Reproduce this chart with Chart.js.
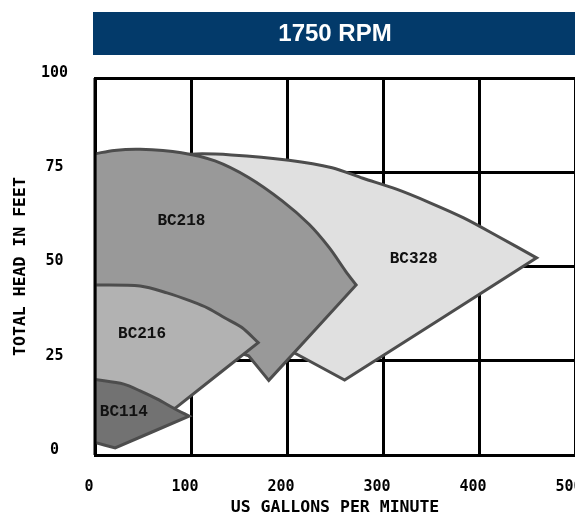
<!DOCTYPE html>
<html>
<head>
<meta charset="utf-8">
<style>
  html, body { margin: 0; padding: 0; background: #fff; }
  canvas { display: block; }
</style>
<script src="https://cdn.jsdelivr.net/npm/chart.js@4/dist/chart.umd.min.js"></script>
</head>
<body>
<canvas id="myChart" width="575" height="518"></canvas>
<script>
// pump ranges: flow (US gpm) and head (feet) around each outline.
// corner points are listed twice so the smoothed line keeps a sharp tip there
const pumpNames = ['BC114', 'BC216', 'BC218', 'BC328'];

const bc114Gpm  = [0, 30, 47, 65, 82, 98, 98, 21, 21, 0, 0, 0];
const bc114Head = [20, 18.8, 17, 14.8, 12.4, 10.3, 10.3, 1.9, 1.9, 3.3, 3.3, 20];

const bc216Gpm  = [0, 47, 75, 100, 118, 135, 153, 170, 170, 84, 84, 0, 0, 0];
const bc216Head = [45.1, 44.8, 43, 40.8, 38.9, 36.4, 33.8, 29.8, 29.8, 12.5, 12.5, 8, 8, 45.1];

const bc218Gpm  = [0, 20, 47, 90, 125, 160, 195, 223, 244, 261, 272, 272, 181, 181, 160, 160, 0, 0, 0];
const bc218Head = [79.9, 80.8, 81.1, 80.2, 78, 73.6, 67.4, 61.2, 55, 48.8, 45.1, 45.1, 19.8, 19.8, 26.3, 26.3, 40, 40, 79.9];

const bc328Gpm  = [0, 47, 100, 142, 202, 247, 279, 314, 349, 384, 419, 460, 460, 260, 260, 206, 206, 150, 150, 0, 0, 0];
const bc328Head = [70, 78, 79.8, 79.6, 78.2, 76.2, 73.4, 70.5, 66.9, 62.9, 58.1, 52.3, 52.3, 19.9, 19.9, 27.3, 27.3, 40, 40, 60, 60, 70];

// where the name sits inside each outline
const labelGpm  = [30, 49, 90, 332];
const labelHead = [11.5, 32, 62, 52];

const fillColors = ['#727272', '#b2b2b2', '#999999', '#e0e0e0'];

const xTicks = [0, 100, 200, 300, 400, 500];
const yTicks = [0, 25, 50, 75, 100];

function toPoints(gpm, head) {
    return gpm.map((g, i) => ({ x: g, y: head[i] }));
}

const outlines = [
    toPoints(bc114Gpm, bc114Head),
    toPoints(bc216Gpm, bc216Head),
    toPoints(bc218Gpm, bc218Head),
    toPoints(bc328Gpm, bc328Head),
];

// dark blue band behind the title
const titleBand = {
    id: 'titleBand',
    beforeDraw(chart) {
        const ctx = chart.ctx;
        const left = chart.chartArea.left - 2;
        ctx.save();
        ctx.fillStyle = '#033a6a';
        ctx.fillRect(left, 12, chart.width - left, 43);
        ctx.restore();
    }
};

// names of the pumps, and the left frame line redrawn over the shapes
const pumpLabels = {
    id: 'pumpLabels',
    afterDatasetsDraw(chart) {
        const ctx = chart.ctx;
        const { x, y } = chart.scales;
        const area = chart.chartArea;
        ctx.save();
        ctx.strokeStyle = '#000';
        ctx.lineWidth = 3;
        ctx.beginPath();
        ctx.moveTo(area.left, area.top);
        ctx.lineTo(area.left, area.bottom);
        ctx.stroke();
        ctx.fillStyle = '#111';
        ctx.font = 'bold 16px "Liberation Mono"';
        ctx.textAlign = 'center';
        ctx.textBaseline = 'middle';
        pumpNames.forEach((name, i) => {
            ctx.fillText(name, x.getPixelForValue(labelGpm[i]), y.getPixelForValue(labelHead[i]));
        });
        ctx.restore();
    }
};

function makeGraphic() {
    const canvasContext = document.getElementById('myChart').getContext('2d');
    const data = {
        datasets: pumpNames.map((name, i) => ({
            label: name,
            data: outlines[i],
            showLine: true,
            fill: 'shape',
            backgroundColor: fillColors[i],
            borderColor: '#4d4d4d',
            borderWidth: 3,
            borderJoinStyle: 'miter',
            pointRadius: 0,
            tension: 0.3,
        }))
    };
    const tickFont = { family: '"DejaVu Sans Mono"', size: 15, weight: 'bold' };
    const titleFont = { family: '"DejaVu Sans Mono"', size: 16.5, weight: 'bold' };
    const config = {
        type: 'scatter',
        data: data,
        options: {
            responsive: false,
            animation: false,
            devicePixelRatio: 1,
            layout: { padding: 0 },
            plugins: {
                legend: { display: false },
                tooltip: { enabled: false },
                title: {
                    display: true,
                    text: '1750 RPM',
                    color: '#ffffff',
                    fullSize: false,
                    font: { family: '"Liberation Sans"', size: 24, weight: 'bold', lineHeight: 1 },
                    padding: { top: 22, bottom: 32 }
                }
            },
            scales: {
                x: {
                    type: 'linear',
                    min: xTicks[0],
                    max: xTicks[xTicks.length - 1],
                    afterBuildTicks: (scale) => { scale.ticks = xTicks.map(v => ({ value: v })); },
                    ticks: { color: '#000', font: tickFont, padding: 23, labelOffset: -6, maxRotation: 0 },
                    grid: { color: '#000', lineWidth: 3, drawTicks: false },
                    border: { display: true, color: '#000', width: 3 },
                    title: {
                        display: true,
                        text: 'US GALLONS PER MINUTE',
                        color: '#000',
                        font: titleFont,
                        padding: { top: 0, bottom: 0 }
                    },
                    afterFit: (scale) => {
                        scale.height = 63;
                        scale.paddingLeft = 0;
                        scale.paddingRight = 0;
                    }
                },
                y: {
                    type: 'linear',
                    min: yTicks[0],
                    max: yTicks[yTicks.length - 1],
                    afterBuildTicks: (scale) => { scale.ticks = yTicks.map(v => ({ value: v })); },
                    ticks: { color: '#000', font: tickFont, padding: 27, labelOffset: -5, crossAlign: 'center' },
                    grid: { color: '#000', lineWidth: 3, drawTicks: false },
                    border: { display: true, color: '#000', width: 3 },
                    title: {
                        display: true,
                        text: 'TOTAL HEAD IN FEET',
                        color: '#000',
                        font: titleFont,
                        padding: { top: 11, bottom: 0 }
                    },
                    afterFit: (scale) => {
                        scale.width = 95;
                        scale.paddingTop = 0;
                        scale.paddingBottom = 0;
                    }
                }
            }
        },
        plugins: [titleBand, pumpLabels]
    };
    new Chart(canvasContext, config);
}
makeGraphic();
</script>
</body>
</html>
